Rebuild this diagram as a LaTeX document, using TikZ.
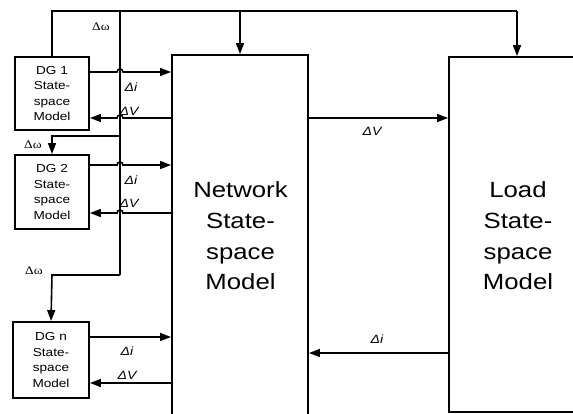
\documentclass[tikz,border=0pt]{standalone}
\usepackage{fontspec}
\setmainfont{Liberation Sans}
\newfontfamily\serifdw{Liberation Serif}
\usetikzlibrary{arrows.meta}
\begin{document}
\begin{tikzpicture}[x=1pt,y=-1pt,
  ln/.style={line width=1.6pt},
  arr/.style={ln,-{Triangle[length=11pt,width=8pt]}},
  box/.style={draw,line width=1.9pt,minimum width=#1,inner sep=0pt},
  dgtext/.style={align=center,transform shape,xscale=1.17,font=\fontsize{11.6}{15.5}\selectfont},
  bigtext/.style={align=center,transform shape,xscale=1.17,font=\fontsize{22}{30.7}\selectfont},
  dlab/.style={transform shape,xscale=1.17,font=\fontsize{12}{13}\selectfont\itshape,inner sep=0pt},
  wlab/.style={transform shape,xscale=1.17,font=\fontsize{11.5}{13}\serifdw,inner sep=0pt}
]
\useasboundingbox (0,0) rectangle (573,413);
% boxes
\node[box=74pt,minimum height=73pt] (dg1) at (52,93.5) {};
\node[box=74pt,minimum height=74pt] (dg2) at (52,192) {};
\node[box=76pt,minimum height=76pt] (dgn) at (51,360) {};
\node[box=136pt,minimum height=385pt] (net) at (240,247.5) {};
\node[box=160pt,minimum height=355pt] (load) at (529,234.5) {};
% box texts
\node[dgtext] (t1) at (dg1) {DG 1\\State-\\space\\Model};
\node[dgtext] (t2) at (dg2) {DG 2\\State-\\space\\Model};
\node[dgtext] (tn) at (dgn) {DG n\\State-\\space\\Model};
\node[bigtext] (tnet) at (240.5,236) {Network\\State-\\space\\Model};
\node[bigtext] (tload) at (518,236) {Load\\State-\\space\\Model};
% coordinates
\coordinate (topL) at (52,11);
\coordinate (topR) at (517,11);
\coordinate (topN) at (240,11);
\coordinate (v1) at (120,11);
\coordinate (v2) at (120,136);
\coordinate (v3) at (120,275);
\coordinate (b2) at (52,136);
\coordinate (bn) at (52,275);
% delta omega bus
\draw[ln] (dg1.north) -- (topL) -- (topR);
\draw[arr] (topR) -- (topR |- load.north);
\draw[arr] (topN) -- (topN |- net.north);
\draw[ln] (v1) -- (v3);
\draw[arr] (v2) -- (b2) -- (dg2.north);
\draw[arr] (v3) -- (bn) -- (dgn.north);
% DG1
\draw[arr] (dg1.east |- 0,72) -- (117,72) .. controls (117,68) and (123,68) .. (123,72) -- (net.west |- 0,72);
\draw[arr] (net.west |- 0,118) -- (123,118) .. controls (123,114) and (117,114) .. (117,118) -- (dg1.east |- 0,118);
% DG2
\draw[arr] (dg2.east |- 0,165) -- (117,165) .. controls (117,161) and (123,161) .. (123,165) -- (net.west |- 0,165);
\draw[arr] (net.west |- 0,213) -- (123,213) .. controls (123,209) and (117,209) .. (117,213) -- (dg2.east |- 0,213);
% DGn
\draw[arr] (dgn.east |- 0,337) -- (net.west |- 0,337);
\draw[arr] (net.west |- 0,383) -- (dgn.east |- 0,383);
% network <-> load
\draw[arr] (net.east |- 0,118) -- (load.west |- 0,118);
\draw[arr] (load.west |- 0,353) -- (net.east |- 0,353);
% labels
\node[wlab] (w1) at (101,27) {Δω};
\node[wlab] (w2) at (33,145) {Δω};
\node[wlab] (w3) at (34,271) {Δω};
\node[dlab] (l1) at (131,87) {Δi};
\node[dlab] (l2) at (129,111) {ΔV};
\node[dlab] (l3) at (131,180) {Δi};
\node[dlab] (l4) at (129,203) {ΔV};
\node[dlab] (l5) at (127,351) {Δi};
\node[dlab] (l6) at (127,375) {ΔV};
\node[dlab] (l7) at (372,131) {ΔV};
\node[dlab] (l8) at (377,339) {Δi};
\end{tikzpicture}
\end{document}
